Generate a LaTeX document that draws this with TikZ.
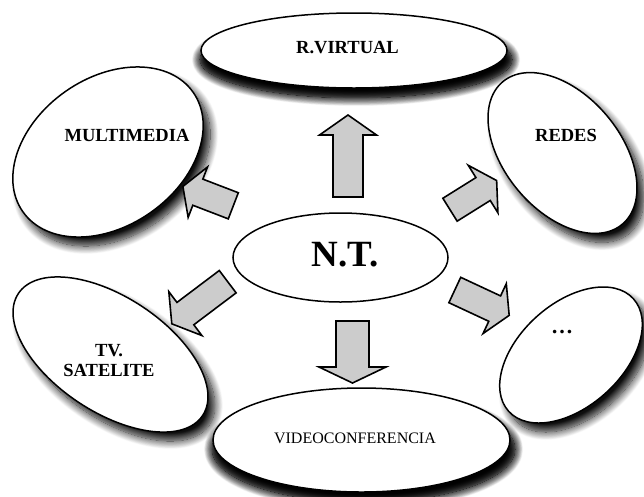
\documentclass[tikz,border=0pt]{standalone}
\usepackage{fontspec}
\setmainfont{Liberation Serif}
\usetikzlibrary{shapes.geometric,shadows.blur}
\definecolor{arrowgray}{RGB}{204,204,204}
\newcommand\blockarr[6]{%
  \draw[barrow, shift={(#1)}, rotate=#2]
    (0,{-#4/2}) -- ({#3-#6},{-#4/2}) -- ({#3-#6},{-#5/2}) -- (#3,0)
    -- ({#3-#6},{#5/2}) -- ({#3-#6},{#4/2}) -- (0,{#4/2}) -- cycle;}
\tikzset{
  bubble/.style={ellipse, draw=black, line width=1.5pt, fill=white, inner sep=0pt,
    blur shadow={shadow xshift=7pt, shadow yshift=-9pt, shadow blur radius=8pt,
      shadow opacity=95, shadow blur steps=14}},
  flatbubble/.style={bubble, blur shadow={shadow xshift=2pt, shadow yshift=-9pt,
      shadow blur radius=8pt, shadow opacity=95, shadow blur steps=14, shadow scale=1.02}},
  plainbubble/.style={ellipse, draw=black, line width=1.5pt, fill=white, inner sep=0pt},
  lbl/.style={font=\fontsize{18.5}{20}\selectfont\bfseries, inner sep=0pt, anchor=base, align=center},
  barrow/.style={draw=black, line width=1.6pt, fill=arrowgray, line join=miter},
}
\begin{document}
\begin{tikzpicture}[x=1pt, y=-1pt]
\useasboundingbox (0,0) rectangle (644,496);
% bubbles
\node[flatbubble, minimum width=306pt, minimum height=75pt] (rv) at (354,50.5) {};
\node[bubble, minimum width=208pt, minimum height=148pt, rotate=35] (mm) at (108,152) {};
\node[bubble, minimum width=186pt, minimum height=116pt, rotate=-50] (rd) at (562.5,153) {};
\node[bubble, minimum width=221pt, minimum height=115pt, rotate=-33.5] (tv) at (110.5,354.5) {};
\node[bubble, minimum width=168pt, minimum height=103pt, rotate=42] (dt) at (571,355) {};
\node[flatbubble, minimum width=297pt, minimum height=104pt] (vc) at (361.5,440) {};
\node[plainbubble, minimum width=215pt, minimum height=89pt] (nt) at (340.5,257.5) {};
% labels
\node[lbl] (rvt) at (347.5,53) {R.VIRTUAL};
\node[lbl] (mmt) at (127,141) {MULTIMEDIA};
\node[lbl] (rdt) at (566,141) {REDES};
\node[lbl, anchor=center] (tvt) at (109,361) {TV.\\SATELITE};
\node[lbl, font=\fontsize{22}{24}\selectfont\bfseries] (dtt) at (562,333) {…};
\node[lbl, font=\fontsize{16}{18}\selectfont] (vct) at (355,443) {VIDEOCONFERENCIA};
\node[lbl, font=\fontsize{37}{40}\selectfont\bfseries] (ntt) at (345,266) {N.T.};
% arrows
\coordinate (a1) at (348,197);
\coordinate (a2) at (352.5,321);
\coordinate (a3) at (233.3,205.8);
\coordinate (a4) at (450,209.7);
\coordinate (a5) at (227.7,281.7);
\coordinate (a6) at (454.8,290);
\blockarr{a1}{90}{82}{30}{57}{20}
\blockarr{a2}{-90}{62}{33}{67}{16}
\blockarr{a3}{159}{54}{28}{54}{16}
\blockarr{a4}{32}{55}{27}{56}{16}
\blockarr{a5}{217}{70}{28}{55}{17}
\blockarr{a6}{-25}{60}{28}{55}{16}
\end{tikzpicture}
\end{document}
